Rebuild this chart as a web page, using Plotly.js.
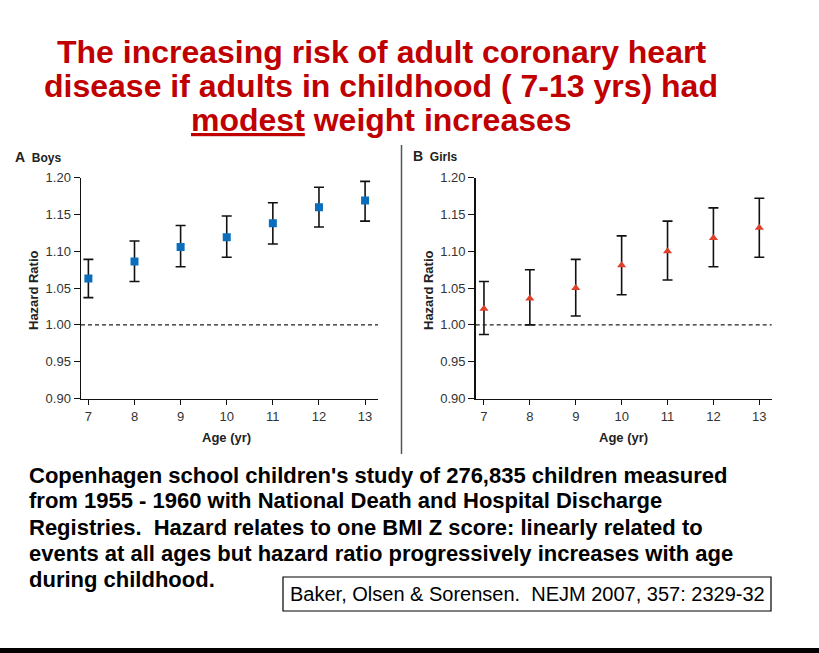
<!DOCTYPE html>
<html>
<head>
<meta charset="utf-8">
<script src="https://cdn.plot.ly/plotly-3.0.1.min.js"></script>
<style>html,body{margin:0;padding:0;background:#fff;}#chart{width:819px;height:653px;}</style>
</head>
<body>
<div id="chart"></div>
<script>
// ---- data ----
const ages = [7, 8, 9, 10, 11, 12, 13];
const boysHR = [1.063, 1.086, 1.106, 1.119, 1.138, 1.160, 1.169];
const boysLower = [1.037, 1.059, 1.079, 1.092, 1.110, 1.133, 1.141];
const boysUpper = [1.089, 1.114, 1.135, 1.148, 1.166, 1.187, 1.195];
const girlsHR = [1.022, 1.036, 1.050, 1.081, 1.100, 1.118, 1.132];
const girlsLower = [0.987, 1.000, 1.012, 1.041, 1.061, 1.079, 1.092];
const girlsUpper = [1.059, 1.075, 1.089, 1.121, 1.141, 1.159, 1.172];
const yTicks = [0.90, 0.95, 1.00, 1.05, 1.10, 1.15, 1.20];
const yTickText = ["0.90", "0.95", "1.00", "1.05", "1.10", "1.15", "1.20"];
const titleLines = [
  "The increasing risk of adult coronary heart",
  "disease if adults in childhood ( 7-13 yrs) had",
  "<u>modest</u> weight increases"
];
const bodyLines = [
  "Copenhagen school children's study of 276,835 children measured",
  "from 1955 - 1960 with National Death and Hospital Discharge",
  "Registries.  Hazard relates to one BMI Z score: linearly related to",
  "events at all ages but hazard ratio progressively increases with age",
  "during childhood."
];
const citation = "Baker, Olsen & Sorensen.  NEJM 2007, 357: 2329-32";

// ---- helpers (pixel -> paper) ----
const W = 819, H = 653;
const px = x => x / W;
const py = y => 1 - y / H;

const diff = (a, b) => a.map((v, i) => v - b[i]);

const errStyle = {color: '#111', thickness: 1.6, width: 5};

const traces = [
  {
    x: ages, y: boysHR, xaxis: 'x', yaxis: 'y', type: 'scatter', mode: 'markers',
    marker: {symbol: 'square', size: 8, color: '#0a6ebd'},
    error_y: Object.assign({type: 'data', symmetric: false,
      array: diff(boysUpper, boysHR), arrayminus: diff(boysHR, boysLower)}, errStyle),
    showlegend: false, hoverinfo: 'x+y'
  },
  {
    x: ages, y: girlsHR, xaxis: 'x2', yaxis: 'y2', type: 'scatter', mode: 'markers',
    marker: {symbol: 'triangle-up', size: 8, color: '#e0402a'},
    error_y: Object.assign({type: 'data', symmetric: false,
      array: diff(girlsUpper, girlsHR), arrayminus: diff(girlsHR, girlsLower)}, errStyle),
    showlegend: false, hoverinfo: 'x+y'
  }
];

const tickFont = {family: 'Liberation Sans Narrow, Liberation Sans, Arial, sans-serif', size: 13, color: '#333'};
const xBase = {
  tickvals: ages, ticks: 'outside', ticklen: 5, tickwidth: 1, tickcolor: '#111',
  showline: true, linecolor: '#111', linewidth: 1.5, showgrid: false, zeroline: false,
  tickfont: tickFont, fixedrange: true
};
const yBase = {
  range: [0.90, 1.20], tickvals: yTicks, ticktext: yTickText, ticks: 'outside', ticklen: 6,
  tickwidth: 1, tickcolor: '#111', showline: true, linecolor: '#111', linewidth: 1.5,
  showgrid: false, zeroline: false, tickfont: tickFont, fixedrange: true
};
const yDom = [py(398.5), py(177.7)];

const annotations = [];
titleLines.forEach((t, i) => {
  annotations.push({
    xref: 'paper', yref: 'paper', x: px(381), y: py(52 + i * 34), xanchor: 'center', yanchor: 'middle',
    text: '<b>' + t + '</b>', showarrow: false,
    font: {family: 'Liberation Sans, Arial, sans-serif', size: 32, color: '#c00000'}
  });
});
bodyLines.forEach((t, i) => {
  annotations.push({
    xref: 'paper', yref: 'paper', x: px(27), y: py(475 + i * 26), xanchor: 'left', yanchor: 'middle',
    text: '<b>' + t + '</b>', showarrow: false,
    font: {family: 'Liberation Sans, Arial, sans-serif', size: 22, color: '#000'}
  });
});
annotations.push({
  xref: 'paper', yref: 'paper', x: px(527), y: py(594), xanchor: 'center', yanchor: 'middle',
  text: citation, showarrow: false,
  font: {family: 'Liberation Sans, Arial, sans-serif', size: 20, color: '#000'}
});
// panel labels
annotations.push({xref: 'paper', yref: 'paper', x: px(13), y: py(157), xanchor: 'left', yanchor: 'middle',
  text: '<b><span style="font-size:14px">A</span></b>  <b>Boys</b>', showarrow: false,
  font: {family: 'Liberation Sans Narrow, Liberation Sans, Arial, sans-serif', size: 12, color: '#222'}});
annotations.push({xref: 'paper', yref: 'paper', x: px(411), y: py(156), xanchor: 'left', yanchor: 'middle',
  text: '<b><span style="font-size:14px">B</span></b>  <b>Girls</b>', showarrow: false,
  font: {family: 'Liberation Sans Narrow, Liberation Sans, Arial, sans-serif', size: 12, color: '#222'}});
// axis titles
[[px(33), py(290), 'Hazard Ratio', -90], [px(428), py(290), 'Hazard Ratio', -90],
 [px(226), py(437), 'Age (yr)', 0], [px(623), py(437), 'Age (yr)', 0]].forEach(a => {
  annotations.push({xref: 'paper', yref: 'paper', x: a[0], y: a[1], xanchor: 'center', yanchor: 'middle',
    text: '<b>' + a[2] + '</b>', textangle: a[3], showarrow: false,
    font: {family: 'Liberation Sans Narrow, Liberation Sans, Arial, sans-serif', size: 13, color: '#222'}});
});

const shapes = [
  {type: 'line', xref: 'x domain', yref: 'y', x0: 0, x1: 1, y0: 1, y1: 1,
   line: {color: '#222', width: 1.3, dash: '4px,3px'}},
  {type: 'line', xref: 'x2 domain', yref: 'y2', x0: 0, x1: 1, y0: 1, y1: 1,
   line: {color: '#222', width: 1.3, dash: '4px,3px'}},
  // divider between panels
  {type: 'line', xref: 'paper', yref: 'paper', x0: px(401.5), x1: px(401.5), y0: py(145), y1: py(454),
   line: {color: '#555', width: 1.5}},
  // citation box
  {type: 'rect', xref: 'paper', yref: 'paper', x0: px(283), x1: px(771), y0: py(577), y1: py(611),
   line: {color: '#000', width: 1.2}},
  // bottom bar
  {type: 'rect', xref: 'paper', yref: 'paper', x0: 0, x1: 1, y0: 0, y1: py(648),
   fillcolor: '#000', line: {width: 0}}
];

const layout = {
  width: W, height: H, margin: {l: 0, r: 0, t: 0, b: 0},
  paper_bgcolor: '#fff', plot_bgcolor: '#fff', showlegend: false,
  xaxis: Object.assign({}, xBase, {domain: [px(81), px(378)], range: [6.84, 13.28], anchor: 'y'}),
  yaxis: Object.assign({}, yBase, {domain: yDom, anchor: 'x'}),
  xaxis2: Object.assign({}, xBase, {domain: [px(475.7), px(771.7)], range: [6.82, 13.27], anchor: 'y2'}),
  yaxis2: Object.assign({}, yBase, {domain: yDom, anchor: 'x2'}),
  annotations: annotations,
  shapes: shapes
};

Plotly.newPlot('chart', traces, layout, {displayModeBar: false, staticPlot: true});
</script>
</body>
</html>
